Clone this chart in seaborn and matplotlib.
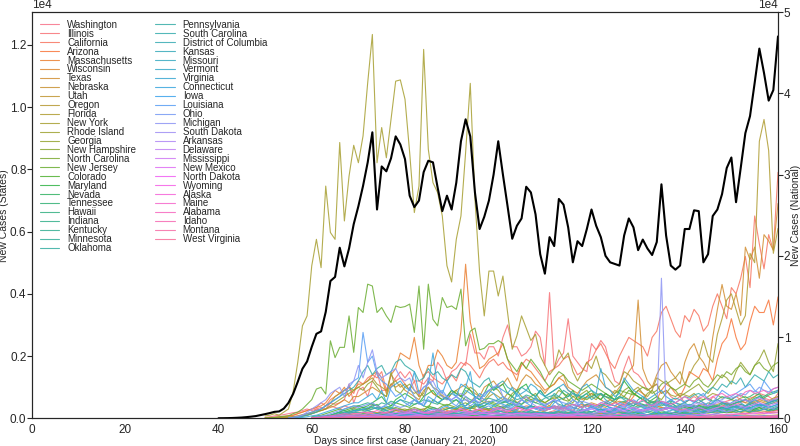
import numpy as np
import pandas as pd
import matplotlib
matplotlib.use("Agg")
import matplotlib.pyplot as plt
import seaborn as sns

# daily new cases, every list ends on day 160 (June 29, 2020)
national = [15, 20, 30, 45, 70, 100, 150, 210, 280, 400,
            520, 650, 800, 850, 1200, 1900, 3000, 4500, 6100, 7000,
            8800, 10400, 10700, 13100, 16900, 17400, 21000, 18700, 20900, 23900,
            26100, 28600, 31500, 35200, 25700, 31000, 30400, 32000, 34700, 33700,
            31900, 27400, 26000, 26800, 30300, 31700, 31500, 28400, 25500, 27400,
            25700, 29000, 34100, 36800, 34700, 27800, 23300, 24800, 26800, 30000,
            34100, 30000, 26100, 22100, 23700, 24600, 28500, 27800, 25100, 20200,
            17800, 22300, 21200, 27000, 26300, 23500, 19200, 21800, 21200, 23300,
            25700, 23700, 22300, 20000, 19200, 19000, 18800, 22500, 24600, 23500,
            20700, 22000, 20900, 20100, 21700, 28800, 22500, 18800, 18300, 18800,
            23300, 23300, 25600, 25500, 19200, 20200, 24900, 25700, 27600, 30800,
            32100, 26600, 30800, 35100, 37200, 41300, 45500, 42500, 39100, 40400,
            47000]

washington = [30, 50, 80, 100, 120, 150, 180, 200, 250, 300,
              250, 300, 350, 300, 400, 350, 300, 400, 350, 300,
              400, 350, 300, 450, 400, 300, 350, 300, 250, 300,
              250, 300, 200, 250, 300, 200, 150, 200, 250, 200,
              150, 200, 250, 200, 150, 200, 250, 200, 150, 200,
              200, 250, 200, 150, 200, 250, 200, 150, 200, 180,
              150, 200, 250, 200, 150, 200, 180, 150, 200, 250,
              200, 250, 300, 200, 250, 300, 250, 200, 300, 350,
              300, 250, 300, 350, 300, 250, 300, 350, 300, 250,
              300, 350, 400, 350, 300, 400, 450, 400, 350, 500,
              400, 450, 500, 600, 550, 500, 600, 650, 600, 550,
              700]
illinois = [5, 10, 10, 20, 30, 40, 50, 70, 100, 150,
            160, 300, 250, 300, 500, 450, 500, 600, 1100, 500,
            900, 1000, 700, 1200, 1500, 900, 900, 1000, 1300, 1500,
            1300, 1500, 1200, 1200, 1100, 1300, 1200, 1800, 1600, 1200,
            1500, 1600, 1800, 1700, 2700, 2100, 2100, 1900, 2300, 2300,
            2000, 2600, 3000, 2300, 2300, 2000, 2100, 2300, 2800, 2600,
            1700, 4040, 1600, 1900, 2100, 3200, 2000, 1800, 1600, 1500,
            2400, 2200, 2500, 2300, 1700, 1200, 1100, 1600, 2000, 1500,
            1400, 1200, 900, 1000, 1100, 800, 900, 700, 600, 700,
            500, 600, 700, 600, 500, 400, 700, 600, 500, 550,
            600, 700, 600, 500, 650, 700, 800, 750, 700, 600,
            800]
california = [20, 30, 40, 50, 60, 80, 100, 150, 200, 250,
              300, 350, 500, 400, 600, 700, 800, 900, 1000, 800,
              1200, 1100, 1300, 1400, 1300, 1500, 900, 1400, 1200, 1300,
              1100, 900, 1200, 700, 1400, 1500, 1300, 1200, 1100, 1300,
              1400, 1200, 1600, 1800, 1700, 1500, 1300, 1600, 1800, 1900,
              1700, 1800, 1600, 1500, 1400, 1700, 1900, 1800, 1600, 1400,
              1200, 1500, 1600, 1700, 1900, 2000, 1700, 1400, 1500, 1800,
              1900, 2200, 2400, 2100, 1800, 1600, 2000, 2300, 2600, 2500,
              2400, 2300, 2000, 2600, 2800, 3400, 3600, 3200, 2800, 2600,
              3300, 3100, 3500, 3300, 2800, 3000, 3600, 4000, 3600, 3200,
              4200, 4000, 4500, 5200, 4200, 6500, 5600, 4800, 5900, 5400,
              7900]
arizona = [10, 20, 30, 40, 50, 70, 80, 100, 120, 150,
           130, 140, 150, 160, 180, 200, 150, 200, 250, 200,
           250, 200, 180, 150, 200, 250, 200, 180, 170, 250,
           200, 220, 250, 300, 250, 200, 180, 300, 280, 250,
           300, 350, 250, 200, 300, 350, 400, 380, 350, 300,
           250, 300, 350, 400, 350, 300, 250, 400, 450, 400,
           350, 300, 400, 500, 450, 400, 350, 300, 500, 700,
           900, 800, 600, 500, 600, 900, 1100, 1000, 800, 700,
           1000, 1500, 1400, 1300, 1600, 1500, 1200, 1900, 2400, 2600,
           3200, 2600, 2200, 2400, 3100, 3600, 3400, 3400, 3800, 3000,
           3900]
massachusetts = [10, 20, 30, 40, 50, 80, 100, 150, 200, 250,
                 300, 350, 400, 500, 700, 900, 800, 1000, 700, 900,
                 1100, 1100, 1200, 1400, 1500, 1300, 800, 1400, 1600, 2100,
                 2000, 1900, 2600, 1700, 1300, 1700, 1700, 2200, 2000, 1700,
                 1600, 1800, 2800, 4950, 3100, 2400, 1600, 1700, 1900, 2000,
                 2100, 2400, 1900, 1500, 1200, 1800, 1600, 1500, 1300, 1100,
                 900, 1000, 1100, 1300, 1200, 900, 800, 700, 600, 700,
                 800, 700, 600, 500, 600, 550, 400, 500, 600, 500,
                 450, 400, 350, 450, 400, 350, 300, 350, 250, 300,
                 250, 300, 250, 200, 250, 200, 250, 200, 300, 250,
                 200, 250, 200, 150, 200, 250, 200, 150, 200, 180,
                 200]
wisconsin = [20, 30, 50, 60, 80, 100, 120, 150, 200, 180,
             200, 180, 200, 220, 180, 150, 200, 180, 160, 200,
             180, 150, 200, 180, 150, 180, 200, 150, 180, 220,
             250, 300, 350, 300, 330, 300, 250, 350, 300, 330,
             350, 400, 350, 300, 400, 350, 330, 400, 350, 300,
             350, 400, 330, 300, 400, 450, 350, 300, 400, 450,
             500, 450, 400, 350, 450, 500, 550, 500, 450, 500,
             400, 450, 350, 300, 400, 350, 300, 350, 300, 250,
             300, 250, 350, 300, 250, 300, 350, 300, 400, 450,
             400, 350, 450, 400, 500, 450, 550, 500, 450, 500,
             550]
texas = [5, 10, 10, 20, 20, 30, 40, 60, 80, 100,
         150, 200, 250, 300, 350, 400, 500, 600, 500, 700,
         700, 800, 900, 1000, 900, 800, 700, 1100, 1000, 1100,
         900, 800, 700, 600, 900, 1000, 800, 700, 750, 600,
         800, 900, 1000, 1100, 900, 800, 700, 1000, 1100, 1200,
         1000, 1100, 1300, 1000, 900, 1200, 1400, 1300, 1100, 1000,
         800, 1000, 1100, 1300, 1400, 1000, 900, 800, 1000, 1200,
         1300, 1400, 1200, 1000, 900, 800, 1000, 1200, 1500, 1700,
         3800, 1600, 1200, 1000, 1400, 1700, 1800, 1500, 1300, 1100,
         1800, 2200, 2400, 2000, 1800, 1500, 2600, 3500, 4300, 3600,
         3500, 4000, 3300, 5500, 5100, 5500, 4500, 5900, 5700, 5400,
         6900]
nebraska = [2, 5, 5, 10, 10, 15, 20, 25, 30, 35,
            40, 45, 50, 45, 50, 60, 55, 60, 70, 80,
            90, 100, 120, 150, 130, 150, 200, 250, 300, 350,
            300, 280, 250, 300, 350, 400, 350, 300, 250, 300,
            350, 300, 280, 250, 300, 350, 300, 250, 200, 250,
            200, 180, 200, 220, 200, 180, 160, 150, 170, 160,
            150, 140, 160, 150, 140, 130, 150, 140, 120, 130,
            120, 110, 120, 130, 110, 100, 120, 110, 100, 90,
            100, 90, 110, 100, 90, 100, 110, 100, 90, 100,
            90, 100, 110, 100, 90, 100, 110, 100, 90, 100,
            110]
utah = [10, 20, 30, 40, 50, 60, 80, 70, 90, 100,
        100, 90, 110, 100, 120, 110, 100, 90, 110, 130,
        120, 100, 110, 130, 120, 100, 110, 120, 100, 110,
        120, 130, 140, 120, 130, 150, 140, 130, 150, 160,
        150, 140, 160, 150, 140, 160, 150, 140, 130, 150,
        140, 130, 150, 160, 140, 130, 150, 140, 160, 170,
        150, 160, 170, 180, 160, 170, 200, 190, 180, 200,
        220, 250, 300, 280, 260, 300, 350, 320, 300, 350,
        400, 350, 380, 420, 450, 400, 380, 450, 500, 480,
        450, 500, 550, 500, 480, 550, 600, 550, 500, 580,
        600]
oregon = [10, 15, 20, 25, 30, 35, 40, 45, 50, 55,
          60, 55, 50, 60, 55, 50, 45, 50, 55, 50,
          45, 50, 55, 50, 45, 40, 50, 55, 50, 45,
          40, 45, 50, 45, 40, 45, 50, 45, 40, 45,
          50, 45, 40, 50, 55, 50, 45, 40, 50, 45,
          40, 50, 45, 40, 50, 55, 50, 45, 40, 50,
          55, 50, 45, 50, 55, 60, 50, 45, 60, 70,
          80, 90, 100, 110, 100, 120, 150, 130, 140, 170,
          180, 160, 150, 200, 180, 170, 190, 200, 180, 210,
          200, 190, 220, 210, 200, 220, 240, 230, 210, 250,
          260]
florida = [5, 10, 10, 20, 30, 40, 60, 80, 120, 150,
           200, 250, 300, 400, 500, 700, 800, 900, 1000, 900,
           1000, 1100, 1200, 1300, 1100, 1000, 900, 1100, 1200, 1000,
           1100, 900, 800, 900, 700, 1000, 800, 700, 600, 700,
           900, 800, 700, 600, 500, 700, 600, 500, 700, 800,
           700, 600, 800, 700, 500, 600, 700, 600, 500, 600,
           500, 400, 600, 700, 600, 800, 700, 600, 500, 700,
           800, 700, 600, 800, 700, 900, 800, 700, 600, 900,
           1000, 800, 700, 900, 1300, 1200, 1100, 1200, 1300, 1500,
           1100, 1400, 1700, 1900, 2500, 2000, 1800, 2700, 3200, 3800,
           4000, 3500, 3000, 3300, 5300, 5000, 8900, 9600, 8600, 5300,
           6100]
new_york = [80, 100, 150, 100, 200, 300, 840, 1800, 2970, 3290,
            4900, 5750, 4840, 7460, 5970, 5750, 8860, 6340, 7780, 8770,
            8210, 9070, 10780, 12330, 8210, 9340, 8370, 9600, 10830, 10870,
            10250, 8540, 6610, 7460, 11850, 8640, 7570, 7250, 6500, 4900,
            4380, 5750, 6500, 8540, 10760, 7040, 4690, 3290, 4730, 4730,
            3930, 4570, 3400, 2220, 2650, 3290, 2900, 2500, 2700, 2000,
            1700, 1400, 1600, 2200, 1900, 2100, 1500, 1200, 1500, 1800,
            1600, 2000, 1500, 1400, 1200, 1000, 1100, 1500, 1400, 1200,
            1100, 1000, 900, 1000, 1100, 800, 900, 750, 700, 800,
            750, 700, 800, 650, 600, 700, 800, 750, 650, 700,
            600, 550, 650, 700, 600, 700, 800, 600, 550, 650,
            700]
rhode_island = [5, 5, 10, 15, 20, 30, 40, 50, 60, 70,
                80, 90, 100, 120, 130, 150, 180, 200, 250, 280,
                300, 250, 200, 280, 300, 350, 300, 280, 250, 300,
                350, 300, 250, 300, 350, 300, 250, 300, 250, 200,
                250, 200, 180, 200, 250, 200, 150, 180, 200, 150,
                130, 120, 150, 130, 100, 120, 100, 80, 100, 90,
                80, 70, 90, 80, 60, 70, 80, 60, 50, 60,
                50, 40, 50, 60, 50, 40, 50, 40, 30, 40,
                30, 40, 30, 25, 30, 40, 30, 25, 20, 30,
                25, 20, 30, 25, 20, 30, 25, 20, 30, 25,
                20]
georgia = [20, 30, 50, 80, 100,
           150, 200, 250, 300, 400, 500, 600, 700, 800, 900,
           1000, 900, 1100, 1200, 1000, 800, 700, 1500, 900, 800,
           1000, 1100, 900, 700, 800, 1200, 1000, 900, 700, 600,
           800, 900, 700, 800, 1000, 900, 700, 600, 800, 1000,
           900, 700, 600, 800, 900, 700, 600, 700, 800, 600,
           500, 600, 700, 900, 800, 600, 500, 700, 800, 900,
           700, 600, 800, 700, 600, 500, 700, 900, 1000, 800,
           700, 600, 800, 900, 700, 600, 800, 1000, 900, 700,
           800, 900, 1000, 1100, 900, 800, 1000, 1200, 1400, 1300,
           1100, 1500, 1800, 1600, 1400, 1700, 1900, 2200, 1800, 1500,
           2400]
new_hampshire = [2, 3, 5, 8, 10, 12, 15, 18, 20, 25,
                 30, 35, 40, 45, 50, 45, 40, 45, 50, 55,
                 60, 55, 50, 60, 70, 80, 70, 60, 80, 90,
                 80, 90, 100, 90, 80, 100, 110, 90, 80, 90,
                 100, 90, 80, 90, 100, 110, 90, 80, 90, 100,
                 90, 80, 70, 80, 90, 80, 70, 60, 70, 80,
                 70, 60, 50, 60, 70, 60, 50, 40, 50, 60,
                 50, 40, 50, 40, 30, 40, 50, 40, 30, 40,
                 30, 25, 30, 20, 25, 30, 20, 25, 20, 15,
                 20, 15, 20, 25, 20, 15, 20, 25, 20, 15,
                 20]
north_carolina = [20, 30, 50, 80, 100, 150, 200, 150, 200, 250,
                  250, 300, 250, 300, 350, 300, 250, 300, 350, 300,
                  250, 300, 350, 300, 250, 400, 350, 300, 400, 450,
                  400, 350, 450, 500, 400, 350, 450, 500, 550, 500,
                  450, 500, 550, 600, 500, 450, 550, 600, 650, 550,
                  500, 600, 650, 700, 600, 550, 700, 750, 650, 600,
                  700, 800, 750, 700, 650, 800, 900, 850, 800, 750,
                  900, 1000, 950, 800, 900, 1100, 1200, 1000, 900, 1000,
                  1100, 1000, 1200, 1300, 1100, 1000, 1200, 1400, 1300, 1500,
                  1400, 1600, 1700, 1500, 1400, 1700, 1800, 1600, 1500, 1700,
                  1800]
new_jersey = [10, 20, 30, 50, 70, 80, 150, 200, 300, 450,
              600, 940, 1000, 780, 2490, 1950, 2280, 2280, 3290, 2120,
              3560, 3400, 4310, 4250, 3400, 3560, 3290, 3080, 3610, 3560,
              3590, 3670, 2760, 4250, 2220, 4310, 3180, 2970, 3880, 3560,
              3610, 3500, 4150, 2330, 2800, 2900, 2200, 2250, 2400, 2400,
              2500, 2400, 1900, 1700, 1500, 1800, 1600, 1900, 1700, 1500,
              1200, 1000, 1300, 1500, 1400, 1200, 1100, 1000, 900, 1000,
              1100, 1000, 900, 800, 700, 600, 650, 700, 900, 800,
              700, 600, 500, 500, 550, 500, 450, 400, 350, 450,
              400, 380, 350, 420, 380, 350, 300, 400, 350, 300,
              350, 400, 300, 350, 300, 250, 300, 350, 300, 250,
              300]
colorado = [50, 80, 100, 150, 200, 250, 300, 250, 300, 350,
            400, 350, 300, 400, 450, 300, 350, 400, 500, 450,
            400, 350, 450, 500, 400, 350, 600, 500, 450, 400,
            500, 600, 450, 400, 550, 500, 350, 400, 500, 450,
            400, 350, 450, 500, 400, 350, 300, 400, 350, 300,
            250, 300, 350, 300, 250, 300, 250, 200, 300, 250,
            200, 250, 300, 250, 200, 250, 200, 150, 250, 200,
            150, 200, 250, 200, 150, 200, 180, 150, 200, 180,
            150, 200, 180, 150, 200, 180, 200, 250, 200, 180,
            200, 250, 300, 250, 200, 300, 350, 300, 250, 300,
            350]
maryland = [30, 40, 50, 60, 80, 100, 150, 200, 250, 300,
            300, 350, 400, 500, 600, 700, 500, 400, 600, 700,
            800, 700, 600, 500, 700, 800, 900, 700, 600, 700,
            900, 800, 700, 1000, 900, 700, 600, 800, 1100, 900,
            1000, 1100, 800, 700, 900, 1000, 1100, 800, 700, 900,
            700, 800, 900, 1000, 800, 700, 900, 600, 700, 800,
            900, 700, 600, 800, 700, 600, 900, 1200, 1000, 800,
            700, 600, 500, 600, 700, 500, 400, 500, 400, 350,
            400, 350, 300, 400, 350, 300, 250, 300, 350, 300,
            250, 300, 350, 300, 250, 300, 350, 300, 250, 300,
            350]
nevada = [10, 20, 30, 40, 50, 60, 80, 100, 120, 100,
          120, 150, 130, 120, 150, 130, 100, 120, 150, 130,
          100, 80, 100, 120, 100, 80, 100, 120, 100, 80,
          100, 80, 100, 120, 100, 80, 90, 100, 80, 90,
          100, 80, 90, 100, 80, 90, 100, 80, 90, 100,
          80, 90, 100, 80, 90, 100, 120, 100, 90, 100,
          120, 100, 90, 120, 140, 120, 100, 150, 120, 100,
          150, 130, 120, 150, 180, 150, 130, 180, 200, 180,
          200, 250, 220, 300, 280, 350, 400, 380, 450, 500,
          450, 500, 550, 600, 550, 650, 700, 650, 750, 800,
          850]
tennessee = [20, 40, 60, 80, 100, 150, 200, 250, 200, 250,
             300, 250, 300, 350, 300, 250, 300, 350, 300, 250,
             200, 250, 300, 250, 200, 300, 350, 300, 250, 300,
             350, 300, 400, 350, 300, 450, 400, 350, 300, 400,
             350, 300, 400, 450, 400, 350, 300, 400, 350, 300,
             350, 300, 400, 350, 300, 400, 450, 400, 350, 400,
             450, 400, 350, 500, 450, 400, 500, 550, 450, 400,
             500, 450, 400, 550, 500, 450, 500, 550, 500, 450,
             500, 600, 550, 500, 600, 650, 550, 600, 700, 650,
             600, 700, 750, 650, 700, 800, 750, 700, 800, 850,
             900]
hawaii = [2, 3, 4, 5, 6, 8, 10, 12, 15, 20,
          20, 25, 22, 20, 18, 15, 20, 15, 12, 10,
          10, 8, 6, 8, 5, 4, 3, 5, 4, 3,
          3, 2, 1, 2, 3, 2, 1, 2, 1, 2,
          1, 2, 1, 0, 1, 2, 1, 0, 1, 2,
          1, 2, 1, 0, 1, 2, 3, 2, 1, 2,
          3, 2, 1, 2, 3, 4, 3, 2, 5, 4,
          3, 5, 6, 4, 3, 5, 8, 6, 5, 4,
          6, 8, 10, 6, 5, 8, 10, 6, 8, 10,
          12, 8, 10, 15, 12, 10, 8, 12, 15, 10,
          12]
indiana = [20, 30, 50, 80, 100, 150, 200, 300, 350, 400,
           400, 450, 500, 450, 400, 500, 450, 550, 500, 600,
           550, 500, 450, 500, 600, 550, 500, 450, 600, 650,
           550, 600, 500, 700, 600, 550, 500, 600, 650, 600,
           550, 500, 600, 550, 500, 450, 600, 550, 500, 450,
           400, 500, 550, 450, 400, 500, 450, 400, 350, 450,
           400, 350, 450, 400, 350, 300, 400, 450, 400, 350,
           400, 350, 300, 400, 350, 300, 350, 400, 350, 300,
           350, 300, 400, 350, 300, 350, 400, 350, 300, 350,
           400, 350, 300, 400, 450, 350, 400, 450, 400, 350,
           400]
kentucky = [5, 10, 15, 20, 30, 40, 50, 60, 70, 80,
            90, 100, 90, 100, 120, 100, 150, 120, 100, 150,
            130, 150, 180, 150, 120, 150, 200, 250, 200, 150,
            200, 150, 180, 200, 250, 200, 150, 200, 180, 150,
            200, 250, 200, 150, 180, 200, 250, 200, 150, 180,
            200, 150, 180, 200, 150, 180, 200, 150, 180, 200,
            150, 180, 200, 150, 180, 200, 250, 200, 150, 180,
            200, 250, 200, 150, 200, 250, 200, 150, 200, 250,
            200, 150, 200, 250, 200, 250, 300, 250, 200, 250,
            300, 250, 200, 300, 350, 300, 250, 300, 350, 300,
            350]
minnesota = [10, 20, 20, 30, 30, 40, 50, 40, 50, 60,
             60, 70, 80, 70, 60, 80, 90, 80, 100, 90,
             100, 120, 100, 150, 120, 150, 180, 200, 150, 180,
             200, 250, 300, 350, 300, 400, 450, 400, 500, 550,
             600, 550, 500, 700, 600, 650, 750, 700, 600, 550,
             650, 700, 750, 600, 650, 700, 800, 750, 700, 650,
             700, 750, 800, 700, 650, 600, 700, 650, 600, 550,
             500, 550, 600, 500, 450, 400, 450, 400, 350, 400,
             350, 400, 350, 300, 350, 400, 350, 300, 350, 400,
             350, 400, 450, 400, 350, 400, 450, 400, 350, 400,
             450]
oklahoma = [5, 10, 15, 20, 30, 40, 50, 60, 70, 80,
            90, 100, 90, 80, 100, 90, 80, 100, 120, 100,
            90, 80, 100, 90, 80, 70, 90, 80, 70, 90,
            80, 70, 90, 80, 70, 60, 80, 90, 80, 70,
            80, 90, 80, 70, 60, 80, 90, 80, 70, 60,
            80, 70, 60, 80, 70, 60, 80, 90, 80, 70,
            80, 70, 60, 80, 70, 60, 80, 90, 100, 80,
            90, 100, 80, 90, 100, 120, 100, 90, 120, 150,
            130, 150, 200, 180, 220, 250, 230, 300, 350, 300,
            400, 350, 300, 400, 450, 500, 400, 450, 500, 550,
            600]
pennsylvania = [10, 20, 40, 60, 100,
                150, 200, 300, 400, 500, 600, 700, 800, 900, 1000,
                1200, 1500, 1700, 1400, 1600, 1700, 1400, 1500, 1800, 1900,
                1700, 1600, 1500, 1200, 1300, 1600, 1400, 1500, 1300, 1200,
                1400, 1300, 1600, 1500, 1200, 1100, 1000, 1200, 1300, 900,
                1100, 1200, 1000, 900, 800, 1000, 900, 800, 700, 900,
                700, 600, 800, 700, 900, 800, 600, 500, 700, 800,
                600, 700, 800, 600, 500, 600, 700, 600, 500, 400,
                600, 700, 500, 400, 600, 500, 400, 500, 400, 350,
                400, 450, 400, 350, 400, 500, 450, 400, 500, 450,
                400, 500, 550, 600, 500, 600, 700, 600, 500, 550,
                600]
south_carolina = [10, 20, 30, 40, 50, 80, 100, 120, 150, 200,
                  180, 200, 250, 200, 150, 200, 250, 200, 150, 200,
                  180, 150, 200, 180, 150, 120, 150, 180, 150, 120,
                  150, 180, 150, 120, 150, 180, 150, 120, 150, 180,
                  150, 120, 150, 180, 200, 150, 180, 200, 150, 180,
                  150, 200, 180, 150, 200, 250, 200, 180, 200, 250,
                  200, 250, 300, 250, 200, 300, 350, 300, 250, 300,
                  350, 400, 450, 400, 500, 550, 500, 600, 650, 600,
                  700, 650, 750, 800, 700, 900, 1000, 900, 1100, 1000,
                  1200, 1100, 1300, 1000, 1200, 1400, 1300, 1200, 1500, 1300,
                  1400]
district_of_columbia = [5, 10, 10, 15, 20, 25, 30, 40, 50, 60,
                        60, 70, 80, 90, 100, 90, 80, 100, 120, 130,
                        120, 110, 130, 140, 120, 110, 130, 150, 140, 130,
                        150, 140, 130, 120, 150, 140, 130, 120, 140, 150,
                        130, 120, 140, 150, 130, 120, 110, 130, 120, 110,
                        100, 90, 100, 110, 90, 80, 90, 80, 70, 80,
                        70, 60, 70, 80, 60, 50, 60, 70, 50, 60,
                        50, 40, 50, 60, 50, 40, 50, 40, 30, 40,
                        40, 30, 40, 50, 40, 30, 40, 30, 40, 30,
                        30, 40, 30, 40, 30, 40, 30, 40, 30, 40,
                        30]
kansas = [5, 5, 10, 10, 15, 20, 25, 30, 35, 40,
          40, 50, 45, 50, 60, 55, 50, 60, 70, 60,
          70, 80, 90, 80, 100, 120, 100, 150, 120, 100,
          120, 150, 130, 120, 150, 180, 160, 150, 200, 300,
          250, 200, 150, 180, 200, 150, 120, 150, 180, 200,
          150, 130, 150, 120, 100, 130, 150, 120, 100, 120,
          130, 150, 120, 100, 80, 100, 120, 150, 130, 100,
          120, 100, 80, 100, 120, 150, 130, 110, 100, 120,
          150, 130, 100, 120, 150, 200, 180, 150, 200, 220,
          250, 200, 230, 250, 200, 230, 250, 300, 250, 280,
          300]
missouri = [10, 20, 30, 50, 80, 100, 150, 200, 150, 200,
            250, 300, 250, 300, 350, 300, 250, 200, 300, 250,
            200, 250, 300, 250, 200, 150, 200, 250, 200, 150,
            200, 250, 200, 150, 200, 250, 200, 150, 200, 250,
            200, 250, 300, 250, 200, 150, 200, 250, 200, 150,
            200, 150, 200, 250, 200, 150, 200, 250, 200, 150,
            200, 250, 200, 150, 200, 250, 200, 150, 200, 250,
            200, 150, 200, 250, 200, 150, 200, 250, 300, 250,
            200, 250, 300, 250, 200, 300, 350, 300, 250, 300,
            350, 400, 350, 300, 400, 450, 400, 350, 450, 500,
            450]
vermont = [2, 3, 5, 5, 8, 10, 12, 15, 20, 25,
           30, 25, 20, 30, 25, 20, 15, 20, 25, 20,
           15, 20, 15, 10, 15, 20, 15, 10, 8, 10,
           8, 6, 5, 8, 6, 5, 4, 6, 5, 4,
           3, 5, 4, 3, 5, 6, 4, 3, 5, 4,
           3, 4, 5, 3, 2, 4, 3, 2, 3, 4,
           3, 2, 3, 4, 3, 2, 3, 4, 5, 3,
           4, 5, 8, 10, 6, 5, 4, 6, 5, 4,
           3, 5, 4, 3, 5, 6, 4, 3, 5, 4,
           5, 6, 4, 8, 6, 5, 7, 6, 5, 8,
           6]
virginia = [20, 30, 40, 50, 60, 80, 100, 150, 200, 250,
            250, 300, 350, 400, 300, 350, 400, 300, 500, 600,
            500, 400, 600, 500, 400, 700, 600, 500, 600, 700,
            800, 700, 600, 900, 800, 700, 600, 800, 900, 1000,
            1000, 900, 800, 1000, 700, 800, 900, 1100, 1000, 800,
            700, 800, 900, 1000, 1100, 900, 800, 700, 1000, 1100,
            900, 800, 1600, 1000, 900, 700, 800, 1300, 1100, 900,
            800, 700, 600, 700, 800, 900, 700, 600, 500, 600,
            500, 400, 500, 600, 500, 400, 500, 600, 500, 400,
            500, 600, 500, 400, 500, 600, 500, 400, 500, 600,
            500]
connecticut = [5, 10, 20, 30, 50,
               80, 100, 150, 200, 250, 300, 350, 400, 450, 500,
               500, 600, 700, 800, 600, 900, 500, 1000, 1100, 1200,
               1000, 900, 1500, 800, 1000, 1100, 2100, 1000, 800, 1200,
               900, 700, 1100, 1000, 1500, 600, 800, 700, 900, 800,
               600, 700, 500, 400, 800, 600, 500, 400, 700, 500,
               400, 300, 500, 600, 400, 300, 200, 400, 500, 300,
               400, 300, 200, 300, 200, 150, 250, 300, 200, 150,
               200, 150, 100, 150, 200, 100, 150, 120, 100, 80,
               100, 150, 120, 90, 80, 100, 120, 90, 70, 80,
               100, 90, 80, 70, 60, 80, 70, 90, 60, 70,
               80]
iowa = [5, 10, 15, 20, 30, 40, 50, 60, 70, 80,
        70, 80, 100, 120, 100, 80, 120, 150, 120, 100,
        100, 120, 150, 180, 200, 250, 300, 250, 350, 400,
        300, 350, 450, 400, 500, 600, 400, 500, 450, 400,
        500, 450, 400, 350, 450, 400, 350, 400, 300, 350,
        300, 350, 400, 350, 300, 400, 350, 300, 250, 300,
        350, 300, 250, 300, 350, 300, 250, 300, 350, 300,
        250, 300, 350, 300, 250, 300, 350, 300, 250, 200,
        250, 300, 250, 200, 250, 300, 250, 200, 300, 350,
        300, 350, 400, 350, 300, 400, 450, 400, 350, 400,
        450]
louisiana = [10, 30, 60, 100, 150,
             200, 250, 300, 400, 500, 600, 700, 900, 1000, 1200,
             1300, 2760, 1800, 2000, 1400, 1200, 1100, 900, 700, 800,
             600, 1000, 700, 500, 400, 600, 500, 800, 900, 700,
             500, 400, 600, 300, 400, 500, 300, 350, 400, 300,
             300, 400, 350, 300, 250, 400, 300, 350, 300, 250,
             300, 350, 300, 250, 400, 350, 300, 450, 300, 250,
             400, 300, 350, 500, 300, 250, 400, 350, 500, 600,
             500, 400, 300, 350, 400, 500, 450, 600, 500, 400,
             550, 600, 500, 700, 800, 600, 500, 700, 900, 800,
             700, 800, 900, 1000, 1100, 900, 800, 1200, 1000, 800,
             900]
ohio = [30, 50, 80, 100, 150, 200, 250, 300, 350, 400,
        350, 400, 450, 500, 400, 350, 450, 500, 400, 350,
        400, 500, 600, 450, 500, 1300, 1000, 800, 700, 600,
        600, 700, 550, 600, 500, 650, 700, 600, 500, 600,
        500, 600, 550, 500, 450, 600, 500, 550, 600, 500,
        450, 500, 600, 550, 500, 450, 600, 500, 550, 500,
        450, 400, 500, 550, 450, 400, 500, 450, 400, 500,
        450, 400, 350, 450, 400, 500, 450, 400, 350, 400,
        450, 400, 350, 450, 500, 400, 450, 550, 600, 700,
        650, 700, 800, 750, 900, 850, 1000, 900, 850, 950,
        1000]
michigan = [10, 30, 60, 100, 200,
            300, 400, 500, 600, 800, 900, 1000, 700, 1100, 1200,
            1700, 1300, 1800, 2200, 1500, 1300, 1400, 1500, 1600, 1300,
            1200, 1300, 900, 800, 1000, 1100, 1200, 900, 800, 700,
            600, 700, 800, 700, 500, 600, 500, 800, 900, 1000,
            1100, 700, 600, 500, 400, 600, 700, 500, 400, 300,
            400, 500, 600, 400, 350, 300, 400, 500, 300, 250,
            300, 400, 350, 300, 250, 200, 300, 400, 350, 300,
            250, 200, 250, 300, 200, 4500, 300, 200, 150, 200,
            250, 200, 180, 200, 150, 200, 250, 300, 250, 200,
            250, 300, 350, 300, 250, 350, 400, 300, 350, 300,
            400]
south_dakota = [1, 2, 3, 4, 5, 6, 7, 8, 10, 12,
                15, 20, 25, 30, 40, 50, 60, 80, 100, 150,
                180, 200, 150, 100, 80, 60, 50, 60, 70, 80,
                60, 50, 70, 80, 60, 50, 40, 60, 70, 50,
                40, 60, 70, 50, 60, 80, 70, 60, 50, 70,
                80, 60, 70, 50, 60, 70, 80, 60, 50, 70,
                60, 50, 60, 70, 60, 50, 60, 70, 60, 50,
                60, 50, 60, 70, 60, 50, 60, 70, 60, 50,
                60, 50, 60, 70, 60, 50, 60, 50, 60, 70,
                50, 60, 70, 60, 50, 60, 70, 60, 50, 60,
                70]
arkansas = [5, 10, 15, 20, 25, 30, 35, 40, 45, 50,
            50, 60, 55, 60, 65, 60, 50, 60, 70, 60,
            50, 60, 70, 60, 50, 60, 70, 80, 70, 60,
            70, 80, 90, 100, 120, 150, 100, 80, 90, 100,
            120, 100, 90, 80, 100, 120, 110, 100, 90, 120,
            100, 90, 120, 150, 130, 120, 140, 160, 150, 130,
            150, 170, 200, 180, 160, 200, 250, 220, 200, 250,
            230, 250, 300, 280, 260, 300, 350, 330, 300, 350,
            400, 380, 450, 500, 420, 400, 450, 500, 550, 500,
            480, 550, 600, 580, 550, 600, 650, 600, 550, 600,
            650]
delaware = [2, 5, 8, 10, 15, 20, 25, 30, 35, 40,
            45, 50, 60, 70, 80, 90, 100, 120, 110, 130,
            150, 160, 140, 120, 150, 200, 180, 160, 150, 170,
            200, 250, 220, 200, 180, 160, 200, 180, 150, 170,
            160, 150, 140, 130, 150, 160, 140, 120, 110, 130,
            120, 100, 110, 90, 100, 80, 90, 70, 80, 60,
            70, 60, 50, 60, 70, 60, 50, 40, 50, 60,
            50, 40, 50, 60, 50, 40, 50, 40, 50, 40,
            50, 40, 50, 60, 50, 40, 50, 60, 50, 60,
            70, 60, 50, 60, 70, 80, 70, 60, 70, 80,
            90]
mississippi = [10, 20, 30, 40, 50, 60, 80, 100, 90, 100,
               120, 100, 150, 130, 120, 150, 180, 150, 200, 180,
               150, 200, 250, 200, 180, 200, 250, 300, 250, 200,
               250, 200, 300, 250, 200, 250, 300, 250, 200, 300,
               350, 300, 250, 300, 350, 300, 250, 300, 350, 300,
               250, 300, 350, 300, 250, 300, 250, 200, 250, 300,
               300, 250, 200, 250, 300, 350, 300, 250, 300, 350,
               300, 250, 300, 350, 300, 250, 300, 350, 300, 250,
               300, 250, 300, 350, 300, 250, 300, 350, 400, 350,
               400, 450, 400, 350, 400, 450, 500, 450, 400, 450,
               500]
new_mexico = [2, 3, 5, 8, 10, 12, 15, 18, 20, 25,
              30, 35, 40, 45, 50, 60, 50, 60, 70, 60,
              70, 80, 90, 100, 90, 80, 100, 120, 110, 100,
              110, 120, 130, 150, 140, 130, 150, 160, 140, 150,
              170, 160, 150, 140, 160, 170, 150, 140, 160, 150,
              140, 130, 120, 140, 130, 120, 110, 130, 120, 110,
              100, 110, 120, 110, 100, 120, 130, 120, 110, 100,
              110, 120, 100, 90, 100, 110, 120, 100, 90, 110,
              120, 100, 110, 130, 120, 110, 130, 140, 120, 130,
              140, 130, 150, 160, 140, 150, 170, 160, 150, 170,
              180]
north_dakota = [1, 2, 3, 4, 5, 6, 7, 8, 9, 10,
                10, 12, 15, 14, 16, 18, 20, 22, 20, 18,
                20, 22, 25, 30, 28, 25, 30, 35, 40, 45,
                50, 45, 40, 50, 55, 60, 50, 45, 50, 60,
                55, 50, 45, 50, 40, 45, 50, 40, 35, 40,
                45, 40, 35, 40, 45, 50, 45, 40, 35, 40,
                35, 30, 35, 40, 35, 30, 35, 40, 35, 30,
                35, 30, 25, 30, 35, 30, 25, 30, 35, 30,
                25, 30, 35, 30, 25, 30, 35, 30, 25, 30,
                35, 30, 35, 40, 35, 30, 35, 40, 35, 40,
                45]
wyoming = [1, 2, 3, 3, 4, 5, 6, 7, 8, 10,
           10, 12, 10, 8, 10, 12, 10, 8, 6, 8,
           10, 8, 6, 8, 10, 8, 6, 5, 8, 10,
           8, 6, 10, 12, 10, 8, 6, 10, 12, 15,
           12, 10, 8, 10, 12, 10, 8, 12, 15, 10,
           8, 10, 12, 10, 8, 10, 12, 15, 12, 10,
           12, 15, 10, 8, 10, 12, 15, 12, 10, 8,
           10, 12, 15, 12, 10, 15, 18, 15, 12, 15,
           18, 20, 15, 18, 20, 25, 20, 18, 22, 25,
           20, 25, 30, 25, 28, 30, 35, 30, 28, 32,
           35]
alaska = [1, 2, 3, 4, 5, 6, 8, 10, 12, 15,
          12, 10, 15, 12, 10, 8, 10, 8, 6, 8,
          6, 5, 4, 6, 5, 4, 3, 4, 3, 2,
          3, 2, 3, 4, 3, 2, 3, 2, 1, 2,
          2, 3, 2, 1, 2, 3, 2, 1, 2, 1,
          2, 3, 2, 1, 2, 3, 4, 3, 2, 3,
          4, 3, 2, 5, 8, 6, 5, 8, 10, 12,
          10, 8, 12, 10, 8, 12, 15, 12, 10, 15,
          12, 15, 18, 15, 12, 18, 20, 15, 18, 20,
          22, 20, 25, 22, 20, 25, 30, 25, 28, 30,
          35]
maine = [2, 4, 6, 8, 10, 12, 15, 18, 20, 25,
         30, 25, 20, 25, 30, 25, 20, 30, 25, 20,
         25, 20, 15, 20, 25, 20, 15, 20, 25, 30,
         25, 20, 30, 35, 30, 25, 30, 35, 30, 25,
         30, 35, 30, 25, 30, 35, 40, 35, 30, 35,
         40, 45, 50, 45, 40, 50, 55, 45, 40, 50,
         45, 40, 50, 45, 40, 50, 45, 40, 35, 40,
         35, 30, 35, 40, 35, 30, 25, 30, 35, 30,
         25, 30, 25, 20, 25, 30, 25, 20, 25, 20,
         15, 20, 25, 20, 15, 20, 25, 20, 15, 20,
         15]
alabama = [20, 30, 40, 60, 80, 100, 120, 150, 130, 150,
           150, 200, 180, 200, 250, 200, 180, 250, 300, 250,
           200, 250, 300, 250, 200, 150, 200, 250, 200, 150,
           200, 250, 300, 250, 200, 250, 300, 250, 200, 250,
           300, 250, 200, 300, 350, 300, 250, 300, 350, 400,
           350, 300, 400, 350, 300, 400, 450, 400, 350, 400,
           450, 400, 500, 450, 400, 500, 450, 400, 600, 550,
           500, 600, 450, 400, 500, 550, 500, 450, 500, 600,
           700, 600, 550, 650, 700, 600, 700, 750, 800, 700,
           750, 800, 700, 850, 900, 800, 850, 900, 800, 950,
           1000]
idaho = [5, 10, 15, 20, 25, 30, 40, 50, 60, 70,
         80, 90, 100, 80, 70, 60, 50, 60, 50, 40,
         50, 40, 30, 40, 30, 25, 30, 25, 20, 25,
         20, 25, 20, 15, 20, 25, 20, 15, 20, 25,
         20, 15, 20, 25, 20, 15, 20, 25, 20, 15,
         20, 25, 20, 15, 20, 25, 30, 25, 20, 25,
         30, 25, 20, 30, 35, 30, 25, 30, 35, 40,
         35, 30, 40, 45, 40, 35, 45, 50, 45, 40,
         50, 60, 55, 50, 70, 80, 70, 90, 100, 120,
         110, 140, 150, 130, 160, 180, 170, 200, 190, 220,
         250]
montana = [1, 2, 3, 4, 5, 6, 8, 10, 12, 15,
           15, 12, 10, 12, 10, 8, 10, 8, 6, 5,
           4, 5, 3, 4, 3, 2, 3, 2, 1, 2,
           2, 1, 2, 1, 1, 2, 1, 1, 2, 1,
           1, 2, 1, 1, 2, 1, 1, 2, 1, 1,
           2, 1, 2, 3, 2, 1, 2, 3, 2, 1,
           2, 3, 2, 3, 4, 3, 2, 3, 4, 5,
           4, 5, 6, 5, 4, 6, 8, 6, 5, 8,
           10, 8, 12, 10, 15, 12, 10, 15, 18, 20,
           25, 20, 30, 25, 35, 30, 40, 35, 45, 40,
           50]
west_virginia = [1, 2, 3, 4, 5, 8, 10, 12, 15, 20,
                 20, 25, 30, 25, 35, 30, 40, 35, 30, 40,
                 35, 30, 40, 45, 40, 35, 30, 40, 35, 30,
                 35, 40, 30, 25, 30, 35, 30, 25, 30, 35,
                 30, 25, 30, 35, 40, 30, 25, 30, 35, 30,
                 25, 30, 35, 30, 25, 30, 35, 40, 35, 30,
                 25, 30, 35, 30, 25, 30, 35, 30, 40, 45,
                 40, 35, 30, 40, 45, 40, 35, 30, 40, 45,
                 40, 35, 40, 45, 50, 40, 45, 50, 55, 50,
                 45, 50, 60, 55, 50, 60, 70, 65, 60, 70,
                 75]

# legend order (order of first reported case)
states = [
    ("Washington", washington), ("Illinois", illinois), ("California", california),
    ("Arizona", arizona), ("Massachusetts", massachusetts), ("Wisconsin", wisconsin),
    ("Texas", texas), ("Nebraska", nebraska), ("Utah", utah), ("Oregon", oregon),
    ("Florida", florida), ("New York", new_york), ("Rhode Island", rhode_island),
    ("Georgia", georgia), ("New Hampshire", new_hampshire),
    ("North Carolina", north_carolina), ("New Jersey", new_jersey),
    ("Colorado", colorado), ("Maryland", maryland), ("Nevada", nevada),
    ("Tennessee", tennessee), ("Hawaii", hawaii), ("Indiana", indiana),
    ("Kentucky", kentucky), ("Minnesota", minnesota), ("Oklahoma", oklahoma),
    ("Pennsylvania", pennsylvania), ("South Carolina", south_carolina),
    ("District of Columbia", district_of_columbia), ("Kansas", kansas),
    ("Missouri", missouri), ("Vermont", vermont), ("Virginia", virginia),
    ("Connecticut", connecticut), ("Iowa", iowa), ("Louisiana", louisiana),
    ("Ohio", ohio), ("Michigan", michigan), ("South Dakota", south_dakota),
    ("Arkansas", arkansas), ("Delaware", delaware), ("Mississippi", mississippi),
    ("New Mexico", new_mexico), ("North Dakota", north_dakota),
    ("Wyoming", wyoming), ("Alaska", alaska), ("Maine", maine),
    ("Alabama", alabama), ("Idaho", idaho), ("Montana", montana),
    ("West Virginia", west_virginia),
]
last_day = 160

rows = []
for name, vals in states:
    start = last_day + 1 - len(vals)
    for i, v in enumerate(vals):
        rows.append((name, start + i, v))
df = pd.DataFrame(rows, columns=["state", "day", "cases"])
names = [s[0] for s in states]

nat = pd.DataFrame({"day": np.arange(last_day + 1 - len(national), last_day + 1),
                    "cases": national})

sns.set_style("white")
plt.rcParams["font.family"] = ["Liberation Sans", "DejaVu Sans"]
plt.rcParams["axes.edgecolor"] = "0.15"

fig, ax = plt.subplots(figsize=(8, 4.46), dpi=100)
fig.subplots_adjust(left=0.04, right=0.9725, bottom=0.062, top=0.973)

sns.lineplot(data=df, x="day", y="cases", hue="state", hue_order=names,
             palette="husl", linewidth=0.8, alpha=0.85, estimator=None, ax=ax)
ax.set_xlim(0, 160)
ax.set_ylim(0, 13050)
ax.ticklabel_format(axis="y", style="sci", scilimits=(0, 0))
ax.yaxis.get_offset_text().set_fontsize(8.5)
ax.tick_params(labelsize=8.5, pad=0.5)
ax.set_xlabel("Days since first case (January 21, 2020)", fontsize=7.3, labelpad=0)
ax.set_ylabel("New Cases (States)", fontsize=7.5, labelpad=0.5)

handles, labels = ax.get_legend_handles_labels()
ax.legend(handles, labels, ncol=2, loc="upper left", frameon=False,
          fontsize=7, labelspacing=-0.11, handlelength=2.0,
          columnspacing=2.0, borderaxespad=0.4)

ax2 = ax.twinx()
sns.lineplot(data=nat, x="day", y="cases", color="black", linewidth=1.5, ax=ax2)
ax2.set_ylim(0, 50000)
ax2.ticklabel_format(axis="y", style="sci", scilimits=(0, 0))
ax2.yaxis.get_offset_text().set_fontsize(8.5)
ax2.tick_params(labelsize=8.5, pad=0.5)
ax2.set_ylabel("New Cases (National)", fontsize=7.5, labelpad=0.5)

fig.savefig("out.png", dpi=100)
